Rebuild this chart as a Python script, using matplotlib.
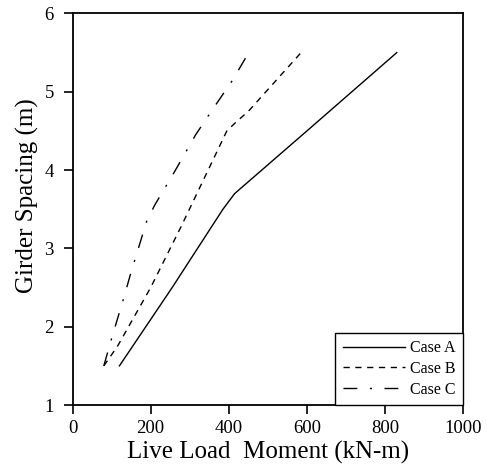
import matplotlib
matplotlib.use('Agg')
import matplotlib.pyplot as plt

# values
case_a_x = [120, 255, 385, 415, 600, 830]
case_a_y = [1.5, 2.5, 3.5, 3.7, 4.5, 5.5]

case_b_x = [80, 115, 200, 280, 395, 420, 450, 585]
case_b_y = [1.5, 1.75, 2.5, 3.3, 4.5, 4.62, 4.75, 5.5]

case_c_x = [80, 100, 130, 150, 190, 210, 260, 315, 355, 410, 445]
case_c_y = [1.5, 1.85, 2.35, 2.7, 3.35, 3.55, 3.97, 4.45, 4.75, 5.15, 5.45]

labels = ['Case A', 'Case B', 'Case C']
x_ticks = [0, 200, 400, 600, 800, 1000]
y_ticks = [1, 2, 3, 4, 5, 6]


def main():
    plt.rcParams['font.family'] = ['Liberation Serif', 'DejaVu Serif']
    plt.rcParams['lines.scale_dashes'] = False

    fig = plt.figure(figsize=(4.87, 4.65), dpi=100)
    ax = fig.add_axes([0.149, 0.129, 0.802, 0.842])

    ax.plot(case_a_x, case_a_y, color='black', lw=1.0, linestyle='-', label=labels[0])
    ax.plot(case_b_x, case_b_y, color='black', lw=1.0, linestyle=(0, (4.5, 4.0)), label=labels[1])
    ax.plot(case_c_x, case_c_y, color='black', lw=1.0,
            linestyle=(0, (10, 9, 1.5, 9)), label=labels[2])

    ax.set_xlim(0, 1000)
    ax.set_ylim(1, 6)
    ax.set_xticks(x_ticks)
    ax.set_yticks(y_ticks)
    ax.tick_params(direction='out', length=6.5, width=1.2, labelsize=13.5, top=False, right=False)
    ax.tick_params(axis='y', pad=7)
    ax.tick_params(axis='x', pad=4)
    for s in ax.spines.values():
        s.set_linewidth(1.3)

    ax.set_xlabel('Live Load  Moment (kN-m)', fontsize=18, labelpad=3)
    ax.set_ylabel('Girder Spacing (m)', fontsize=18)
    ax.yaxis.set_label_coords(-0.087, 0.536)

    leg = ax.legend(loc='lower right', borderaxespad=0, fancybox=False, edgecolor='black',
                    framealpha=1, fontsize=11.5, handlelength=3.9, handletextpad=0.35,
                    borderpad=0.45, labelspacing=0.3)
    leg.get_frame().set_linewidth(1.0)

    fig.savefig('out.png', dpi=100)
    plt.close(fig)


if __name__ == '__main__':
    main()
